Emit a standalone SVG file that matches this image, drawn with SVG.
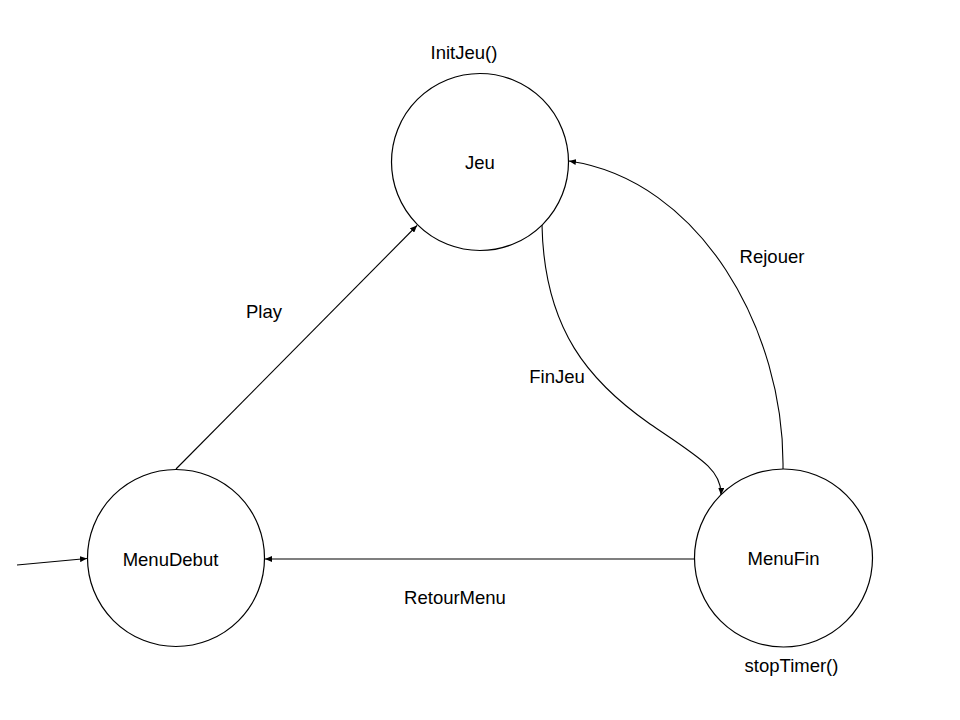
<svg xmlns="http://www.w3.org/2000/svg" width="960" height="720" viewBox="0 0 960 720">
<style>
.node{fill:#fff;stroke:#000;stroke-width:1.2}
.edge{fill:none;stroke:#000;stroke-width:1.1;marker-end:url(#arr)}
text{font-family:"Liberation Sans",Arial,sans-serif;font-size:18.5px;fill:#000}
.c{text-anchor:middle}
</style>
<defs>
<marker id="arr" markerUnits="userSpaceOnUse" markerWidth="8" markerHeight="6" refX="7" refY="3" orient="auto">
<path d="M0,0 L7,3 L0,6 Z" fill="#000"/>
</marker>
</defs>
<rect width="960" height="720" fill="#fff"/>
<g id="connectors">
<line class="edge" x1="17" y1="565" x2="87" y2="558.5"/>
<line class="edge" x1="176" y1="469" x2="417" y2="225.5"/>
<path class="edge" d="M542,225 C544,330 590,382 650,424 C700,458 722,470 721,495"/>
<path class="edge" d="M783,469 C785,330 700,180 569,161"/>
<line class="edge" x1="695" y1="559" x2="265" y2="559"/>
<text x="264" y="318" class="c">Play</text>
<text x="557" y="383" class="c">FinJeu</text>
<text x="772" y="263" class="c">Rejouer</text>
<text x="455" y="604" class="c">RetourMenu</text>
</g>
<g id="jeu">
<circle class="node" cx="480" cy="162" r="88.5"/>
<text x="480" y="168.5" class="c">Jeu</text>
<text x="464" y="59" class="c">InitJeu()</text>
</g>
<g id="menudebut">
<circle class="node" cx="176" cy="558" r="88.5"/>
<text x="170.5" y="566" class="c">MenuDebut</text>
</g>
<g id="menufin">
<circle class="node" cx="783.5" cy="558" r="89"/>
<text x="783.5" y="565" class="c">MenuFin</text>
<text x="791.5" y="672" class="c">stopTimer()</text>
</g>
</svg>
